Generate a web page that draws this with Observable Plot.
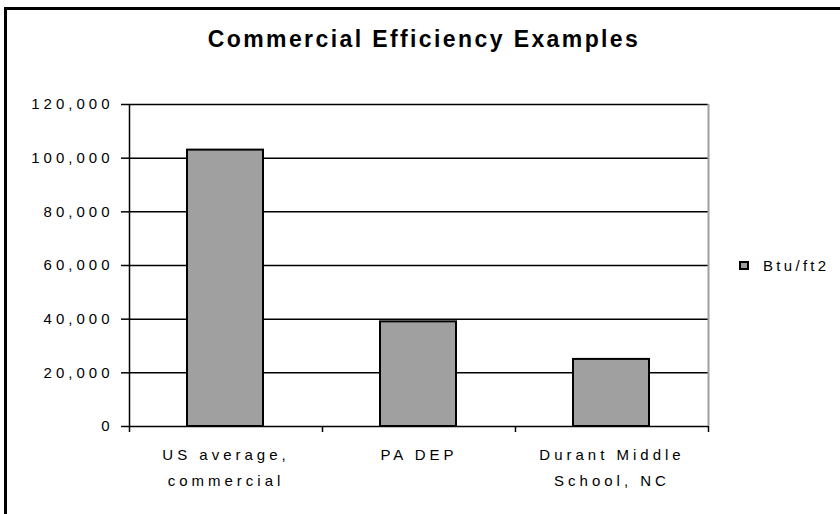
<!DOCTYPE html>
<html>
<head>
<meta charset="utf-8">
<script src="https://cdn.jsdelivr.net/npm/d3@7"></script>
<script src="https://cdn.jsdelivr.net/npm/@observablehq/plot@0.6"></script>
<style>
  html, body { margin: 0; padding: 0; background: #fff; }
  #chart { position: relative; width: 840px; height: 514px; overflow: hidden; font-family: "Liberation Sans", Arial, sans-serif; }
  #frame { position: absolute; left: 4px; top: 7px; width: 900px; height: 600px; border-left: 3px solid #000; border-top: 3px solid #000; box-sizing: border-box; pointer-events: none; }
  #title { position: absolute; left: 4px; width: 840px; top: 25px; text-align: center; font-size: 23px; font-weight: bold; letter-spacing: 2.4px; color: #000; line-height: 28px; }
  #legend { position: absolute; left: 739px; top: 257px; display: flex; align-items: center; font-size: 15px; letter-spacing: 3.3px; color: #000; }
  #legend .sw { width: 6px; height: 5px; border: 2px solid #000; background: #a0a0a0; margin-right: 14px; }
  #plot { position: absolute; left: 0; top: 0; }
  g[aria-label="y-axis tick label"] text { letter-spacing: 4px; }
  g[aria-label="x-axis tick label"] text { letter-spacing: 4px; }
</style>
</head>
<body>
<div id="chart">
  <div id="title">Commercial Efficiency Examples</div>
  <div id="plot"></div>
  <div id="legend"><div class="sw"></div><span>Btu/ft2</span></div>
  <div id="frame"></div>
</div>
<script>
const categories = ["US average,\ncommercial", "PA DEP", "Durant Middle\nSchool, NC"];
const values = [103000, 39000, 25000];
const yTicks = [0, 20000, 40000, 60000, 80000, 100000, 120000];
const seriesName = "Btu/ft2";

const data = categories.map((c, i) => ({category: c, index: i, value: values[i]}));
const fmt = d3.format(",");

const plot = Plot.plot({
  width: 840,
  height: 514,
  marginLeft: 129,
  marginRight: 132,
  marginTop: 104,
  marginBottom: 88,
  style: {fontFamily: "'Liberation Sans', Arial, sans-serif", fontSize: "15px", color: "#000", background: "transparent"},
  x: {domain: [0, categories.length], axis: null},
  y: {domain: [0, 120000], axis: null},
  marks: [
    Plot.ruleY(yTicks, {stroke: "#000", strokeWidth: 1.5}),
    Plot.ruleX([categories.length], {y1: 0, y2: 120000, stroke: "#a0a0a0", strokeWidth: 2}),
    Plot.rectY(data, {
      x1: d => d.index, x2: d => d.index + 1, y: "value",
      insetLeft: 58, insetRight: 59,
      fill: "#a0a0a0", stroke: "#000", strokeWidth: 2
    }),
    Plot.ruleX([0], {y1: 0, y2: 120000, stroke: "#000", strokeWidth: 1.5}),
    Plot.axisY({ticks: yTicks, tickFormat: fmt, tickSize: 8, tickPadding: 8, strokeWidth: 1.5, fontSize: 15, label: null}),
    Plot.axisX({ticks: d3.range(categories.length + 1), tickFormat: () => "", tickSize: 6, strokeWidth: 1.5, label: null}),
    Plot.axisX({
      ticks: categories.map((c, i) => i + 0.5),
      tickFormat: t => categories[Math.floor(t)],
      tickSize: 0, tickPadding: 15, lineHeight: 1.72, fontSize: 15, label: null
    })
  ]
});
document.getElementById("plot").appendChild(plot);
</script>
</body>
</html>
